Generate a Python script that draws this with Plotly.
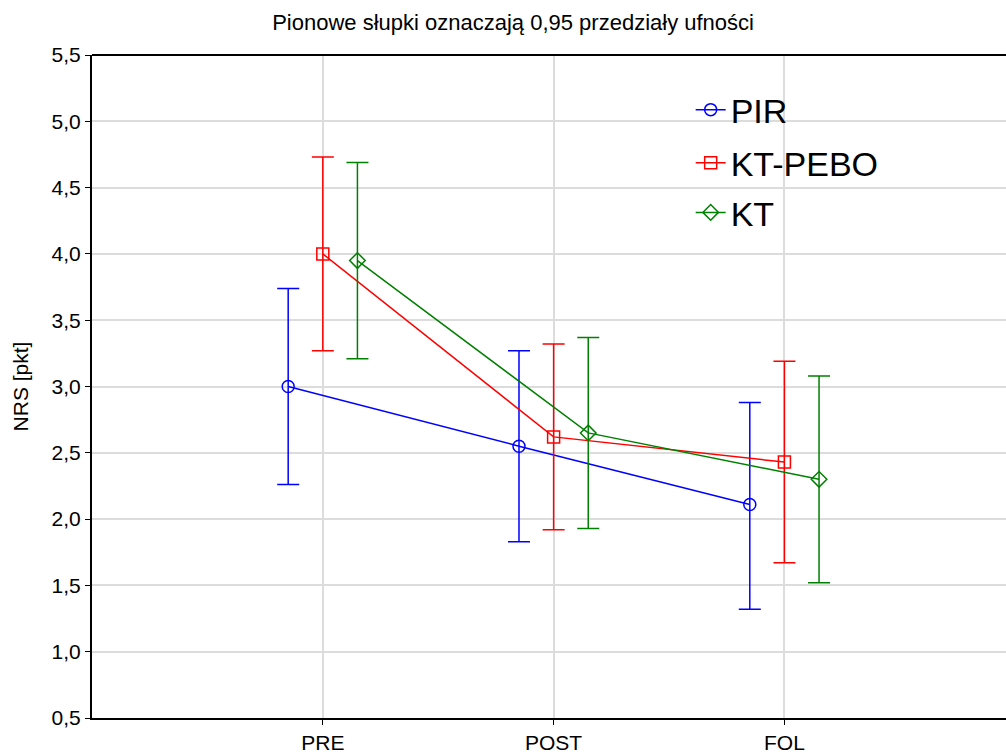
import plotly.graph_objects as go

# Measurement occasions and groups
occasions = ["PRE", "POST", "FOL"]
groups = ["PIR", "KT-PEBO", "KT"]

# Mean NRS score per group and occasion
mean_pir = [3.00, 2.55, 2.11]
mean_ktpebo = [4.00, 2.62, 2.43]
mean_kt = [3.95, 2.65, 2.30]

# 95% confidence limits (upper, lower)
upper_pir = [3.74, 3.27, 2.88]
lower_pir = [2.26, 1.83, 1.32]
upper_ktpebo = [4.73, 3.32, 3.19]
lower_ktpebo = [3.27, 1.92, 1.67]
upper_kt = [4.69, 3.37, 3.08]
lower_kt = [3.21, 1.93, 1.52]

y_ticks = [0.5, 1.0, 1.5, 2.0, 2.5, 3.0, 3.5, 4.0, 4.5, 5.0, 5.5]
y_tick_text = [f"{v:.1f}".replace(".", ",") for v in y_ticks]

series = [
    ("PIR", mean_pir, upper_pir, lower_pir, "rgb(0,0,255)", "circle-open", -0.15, "legend"),
    ("KT-PEBO", mean_ktpebo, upper_ktpebo, lower_ktpebo, "rgb(255,0,0)", "square-open", 0.0, "legend2"),
    ("KT", mean_kt, upper_kt, lower_kt, "rgb(0,128,0)", "diamond-open", 0.15, "legend3"),
]

fig = go.Figure()
for name, means, up, lo, color, symbol, offset, leg in series:
    xs = [i + 1 + offset for i in range(len(occasions))]
    fig.add_trace(go.Scatter(
        x=xs, y=means, name=name, mode="lines+markers", legend=leg,
        line=dict(color=color, width=1.5),
        marker=dict(symbol=symbol, size=12, color=color, line=dict(width=1.5, color=color)),
        error_y=dict(type="data", symmetric=False,
                     array=[u - m for u, m in zip(up, means)],
                     arrayminus=[m - l for m, l in zip(means, lo)],
                     color=color, thickness=1.5, width=11),
    ))

font_family = "Liberation Sans, Arial, sans-serif"

legend_style = dict(x=0.655, xanchor="left", yanchor="middle",
                    bgcolor="rgba(0,0,0,0)", font=dict(size=34, family=font_family),
                    itemwidth=30)

fig.update_layout(
    width=1006, height=754,
    margin=dict(l=92, r=0, t=55, b=36),
    paper_bgcolor="white", plot_bgcolor="white",
    font=dict(family=font_family, color="black", size=18),
    title=dict(text="Pionowe słupki oznaczają 0,95 przedziały ufności",
               x=0.51, xanchor="center", y=0.97, yanchor="middle",
               font=dict(size=22, family=font_family, color="black")),
    xaxis=dict(range=[0, 3.96], tickvals=[1, 2, 3], ticktext=occasions,
               showgrid=True, gridcolor="rgb(220,220,220)", gridwidth=1.5,
               showline=True, linecolor="black", linewidth=2,
               ticks="outside", ticklen=5, tickcolor="black",
               tickfont=dict(size=21), zeroline=False),
    yaxis=dict(range=[0.5, 5.5], tickvals=y_ticks, ticktext=y_tick_text,
               showgrid=True, gridcolor="rgb(220,220,220)", gridwidth=1.5,
               showline=True, linecolor="black", linewidth=2,
               ticks="outside", ticklen=5, tickcolor="black",
               tickfont=dict(size=21), zeroline=False,
               title=dict(text="NRS [pkt]", font=dict(size=21), standoff=17)),
    legend=dict(y=0.917, **legend_style),
    legend2=dict(y=0.837, **legend_style),
    legend3=dict(y=0.762, **legend_style),
    showlegend=True,
)

# Top frame line
fig.add_shape(type="line", xref="paper", yref="paper", x0=0, x1=1, y0=1, y1=1,
              line=dict(color="black", width=2))

fig.write_html("out.html")
